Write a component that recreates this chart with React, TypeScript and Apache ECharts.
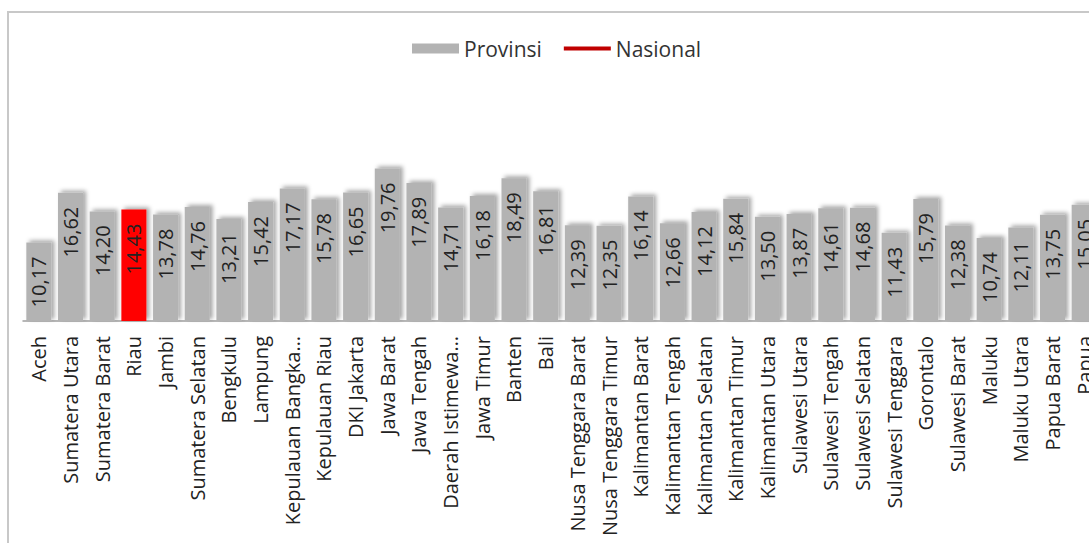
import React, { useEffect, useRef } from "react";
import * as echarts from "echarts";

const provinces = [
  "Aceh", "Sumatera Utara", "Sumatera Barat", "Riau", "Jambi", "Sumatera Selatan",
  "Bengkulu", "Lampung", "Kepulauan Bangka Belitung", "Kepulauan Riau", "DKI Jakarta",
  "Jawa Barat", "Jawa Tengah", "Daerah Istimewa Yogyakarta", "Jawa Timur", "Banten",
  "Bali", "Nusa Tenggara Barat", "Nusa Tenggara Timur", "Kalimantan Barat",
  "Kalimantan Tengah", "Kalimantan Selatan", "Kalimantan Timur", "Kalimantan Utara",
  "Sulawesi Utara", "Sulawesi Tengah", "Sulawesi Selatan", "Sulawesi Tenggara",
  "Gorontalo", "Sulawesi Barat", "Maluku", "Maluku Utara", "Papua Barat", "Papua",
];

const provinsiValues = [
  10.17, 16.62, 14.2, 14.43, 13.78, 14.76, 13.21, 15.42, 17.17, 15.78, 16.65,
  19.76, 17.89, 14.71, 16.18, 18.49, 16.81, 12.39, 12.35, 16.14, 12.66, 14.12,
  15.84, 13.5, 13.87, 14.61, 14.68, 11.43, 15.79, 12.38, 10.74, 12.11, 13.75, 15.05,
];

const highlighted = ["Riau"];
const nasionalValues: (number | null)[] = provinces.map(() => null);

const FONT = "'Open Sans', 'DejaVu Sans', sans-serif";
const LINE_ICON =
  "path://M0,0 L0,0.001 Z M0,3 L47,3 L47,7 L0,7 Z M0,10 L0,10.001 Z";

function shortName(n: string): string {
  if (n.length <= 20) return n;
  const words = n.split(" ");
  let out = "";
  for (const w of words) {
    const next = out ? out + " " + w : w;
    if (next.length > 17) break;
    out = next;
  }
  return out + "…";
}

export default function App() {
  const ref = useRef<HTMLDivElement>(null);
  useEffect(() => {
    if (!ref.current) return;
    const chart = echarts.init(ref.current, null, { renderer: "svg" });
    chart.setOption({
      animation: false,
      backgroundColor: "#ffffff",
      graphic: [
        {
          type: "rect",
          z: -10,
          shape: { x: 8, y: 12, width: 1300, height: 700 },
          style: { fill: "none", stroke: "#c8c8c8", lineWidth: 2 },
        },
      ],
      legend: {
        left: 407,
        top: 33,
        itemWidth: 47,
        itemHeight: 10,
        itemGap: 22,
        textStyle: { fontFamily: FONT, fontSize: 21, color: "#333" },
        data: [
          { name: "Provinsi", icon: "rect" },
          { name: "Nasional", icon: LINE_ICON, itemStyle: { color: "#c00000" } },
        ],
      },
      grid: { left: 23, right: 20, top: 128, bottom: 222, containLabel: false },
      xAxis: {
        type: "category",
        data: provinces,
        axisLine: { lineStyle: { color: "#a0a0a0", width: 1.5 } },
        axisTick: { length: 5, lineStyle: { color: "#a0a0a0" } },
        axisLabel: {
          rotate: 90,
          interval: 0,
          margin: 15,
          fontFamily: FONT,
          fontSize: 20,
          color: "#222",
          formatter: (v: string) => shortName(v),
        },
      },
      yAxis: {
        type: "value",
        min: 0,
        max: 25,
        show: false,
        splitLine: { show: false },
      },
      series: [
        {
          name: "Provinsi",
          type: "bar",
          barWidth: 25,
          itemStyle: {
            color: "#b3b3b3",
            shadowColor: "rgba(0,0,0,0.35)",
            shadowBlur: 4,
            shadowOffsetX: 3,
            shadowOffsetY: -2,
          },
          label: {
            show: true,
            position: "insideTop",
            rotate: 90,
            align: "right",
            verticalAlign: "middle",
            distance: 14,
            fontFamily: FONT,
            fontSize: 20,
            color: "#222",
            formatter: (p: any) => Number(p.value).toFixed(2).replace(".", ","),
          },
          data: provinsiValues.map((v, i) =>
            highlighted.includes(provinces[i])
              ? { value: v, itemStyle: { color: "#ff0000" } }
              : v
          ),
        },
        {
          name: "Nasional",
          type: "line",
          symbol: "none",
          color: "#c00000",
          lineStyle: { color: "#c00000", width: 4 },
          data: nasionalValues,
        },
      ],
    });
    return () => chart.dispose();
  }, []);
  return (
    <div
      style={{
        position: "fixed",
        left: 0,
        top: 0,
        width: 1089,
        height: 543,
        overflow: "hidden",
        background: "#fff",
      }}
    >
      <div ref={ref} style={{ width: 1120, height: 543 }} />
    </div>
  );
}
